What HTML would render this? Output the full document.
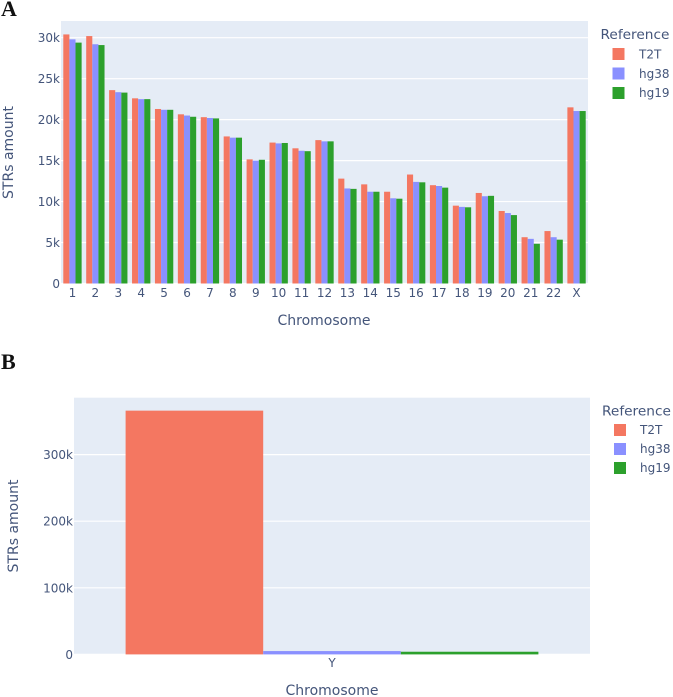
<!DOCTYPE html>
<html>
<head>
<meta charset="utf-8">
<title>STRs amount per chromosome</title>
<style>
html,body{margin:0;padding:0;background:#fff;width:673px;height:697px;overflow:hidden}
svg{display:block;filter:blur(0.35px)}
text{font-family:"DejaVu Sans","Liberation Sans",sans-serif;fill:#44557a}
.panel{font-family:"Liberation Serif",serif;font-weight:bold;font-size:22px;fill:#111}
</style>
</head>
<body>
<svg id="chart" xmlns="http://www.w3.org/2000/svg" width="673" height="697" viewBox="0 0 673 697">
  <text class="panel" x="1" y="16">A</text>
  <text class="panel" x="1" y="369">B</text>

  <rect x="61" y="21" width="527" height="262.5" fill="#e5ecf6"/>
  <g id="gridA"></g>
  <g id="barsA"></g>
  <g id="ticksA"></g>
  <text x="324" y="325" font-size="14" text-anchor="middle">Chromosome</text>
  <text transform="translate(13,152.5) rotate(-90)" font-size="14" text-anchor="middle">STRs amount</text>
  <g>
    <text x="600.5" y="39" font-size="13.7">Reference</text>
    <rect x="612.5" y="48" width="12" height="12" fill="#f47761"/>
    <text x="639" y="58.5" font-size="12">T2T</text>
    <rect x="612.5" y="67.5" width="12" height="12" fill="#8a90ff"/>
    <text x="639" y="78" font-size="12">hg38</text>
    <rect x="612.5" y="87" width="12" height="12" fill="#2ca02c"/>
    <text x="639" y="97" font-size="12">hg19</text>
  </g>

  <rect x="74" y="397.7" width="516" height="256.5" fill="#e5ecf6"/>
  <g id="gridB"></g>
  <g id="barsB"></g>
  <g id="ticksB"></g>
  <text x="332" y="695" font-size="14" text-anchor="middle">Chromosome</text>
  <text transform="translate(18,526) rotate(-90)" font-size="14" text-anchor="middle">STRs amount</text>
  <g>
    <text x="602" y="415.5" font-size="13.7">Reference</text>
    <rect x="614" y="424" width="12" height="12" fill="#f47761"/>
    <text x="640" y="434" font-size="12">T2T</text>
    <rect x="614" y="443" width="12" height="12" fill="#8a90ff"/>
    <text x="640" y="453" font-size="12">hg38</text>
    <rect x="614" y="462" width="12" height="12" fill="#2ca02c"/>
    <text x="640" y="472" font-size="12">hg19</text>
  </g>
</svg>
<script>
const categoriesA = ['1','2','3','4','5','6','7','8','9','10','11','12','13','14','15','16','17','18','19','20','21','22','X'];
const t2tA = [30400,30200,23600,22600,21300,20650,20300,17950,15150,17200,16500,17500,12800,12100,11200,13300,12000,9500,11050,8850,5650,6400,21500];
const hg38A = [29800,29200,23350,22500,21200,20500,20200,17800,15000,17100,16200,17350,11600,11200,10400,12400,11900,9350,10650,8600,5450,5650,21050];
const hg19A = [29400,29100,23300,22500,21200,20350,20150,17800,15100,17150,16150,17350,11550,11200,10350,12350,11700,9300,10700,8350,4850,5350,21050];
const tickValuesA = [0,5000,10000,15000,20000,25000,30000];
const tickLabelsA = ['0','5k','10k','15k','20k','25k','30k'];

const categoriesB = ['Y'];
const t2tB = [366000];
const hg38B = [5000];
const hg19B = [4000];
const tickValuesB = [0,100000,200000,300000];
const tickLabelsB = ['0','100k','200k','300k'];

const seriesNames = ['t2t','hg38','hg19'];
const seriesColors = ['#f47761','#8a90ff','#2ca02c'];

const NS = 'http://www.w3.org/2000/svg';

function yAxisA(v){ return 283.5 - v * 245.8 / 30000; }
function yAxisB(v){ return 654.4 - v * 66.6 / 100000; }

function bandAxis(left, right, count){
  const step = (right - left) / count;
  return {
    step: step,
    center: function(i){ return left + step * (i + 0.5); }
  };
}

function makeText(parent, x, y, label, anchor){
  const t = document.createElementNS(NS, 'text');
  t.setAttribute('x', x);
  t.setAttribute('y', y);
  t.setAttribute('font-size', '12');
  t.setAttribute('text-anchor', anchor);
  t.textContent = label;
  parent.appendChild(t);
  return t;
}

function drawPanel(cfg){
  const grid = document.getElementById(cfg.gridId);
  const bars = document.getElementById(cfg.barsId);
  const ticks = document.getElementById(cfg.ticksId);
  const band = bandAxis(cfg.left, cfg.right, cfg.categories.length);
  const y = cfg.y;

  cfg.tickValues.forEach(function(v, i){
    const line = document.createElementNS(NS, 'line');
    
    
    line.setAttribute('x1', cfg.left);
    line.setAttribute('x2', cfg.right);
    line.setAttribute('y1', y(v));
    line.setAttribute('y2', y(v));
    line.setAttribute('stroke', '#ffffff');
    line.setAttribute('stroke-width', '1.2');
    grid.appendChild(line);

    const label = makeText(ticks, cfg.left - 1, y(v) + 4.5, cfg.tickLabels[i], 'end');
    
    
  });

  const groupWidth = band.step * 0.8;
  const barWidth = groupWidth / cfg.series.length;

  cfg.categories.forEach(function(cat, c){
    const start = band.center(c) - groupWidth / 2;
    cfg.series.forEach(function(values, s){
      const rect = document.createElementNS(NS, 'rect');
      
      
      rect.setAttribute('x', start + barWidth * s);
      rect.setAttribute('y', y(values[c]));
      rect.setAttribute('width', barWidth);
      rect.setAttribute('height', y(0) - y(values[c]));
      rect.setAttribute('fill', seriesColors[s]);
      bars.appendChild(rect);
    });
    const xl = makeText(ticks, band.center(c), cfg.xTickY, cat, 'middle');
    
    
  });
}

drawPanel({
  gridId: 'gridA', barsId: 'barsA', ticksId: 'ticksA',
  left: 61, right: 588, xTickY: 297, y: yAxisA,
  categories: categoriesA, series: [t2tA, hg38A, hg19A],
  tickValues: tickValuesA, tickLabels: tickLabelsA
});
drawPanel({
  gridId: 'gridB', barsId: 'barsB', ticksId: 'ticksB',
  left: 74, right: 590, xTickY: 667, y: yAxisB,
  categories: categoriesB, series: [t2tB, hg38B, hg19B],
  tickValues: tickValuesB, tickLabels: tickLabelsB
});
</script>
</body>
</html>
